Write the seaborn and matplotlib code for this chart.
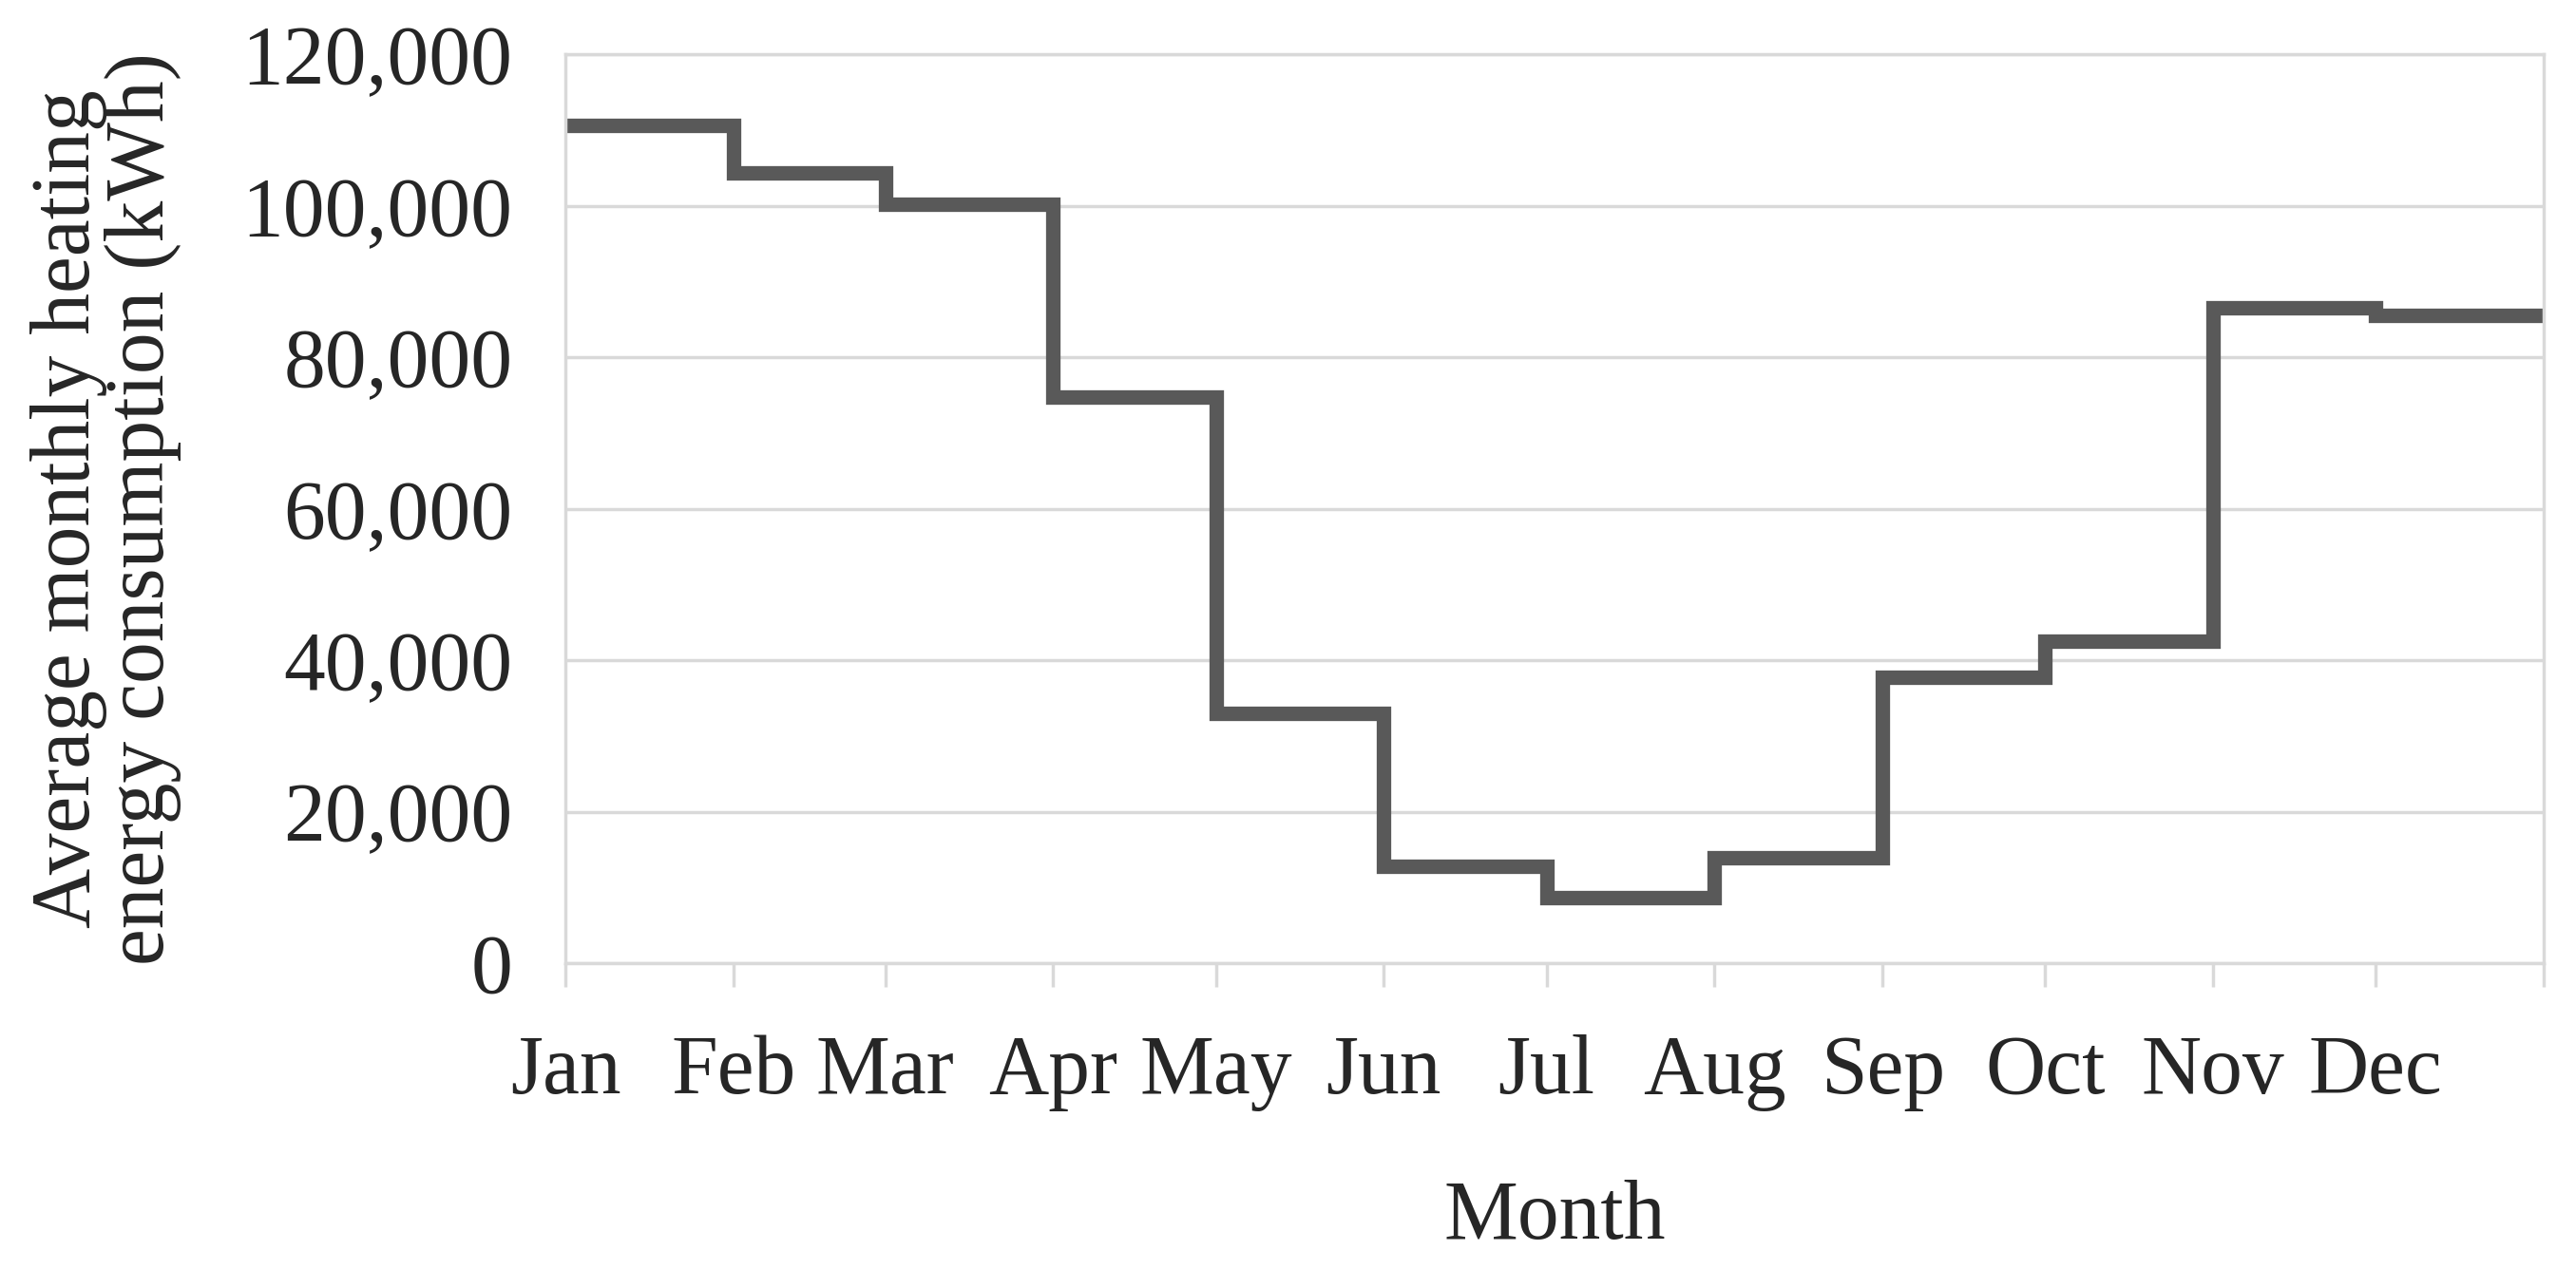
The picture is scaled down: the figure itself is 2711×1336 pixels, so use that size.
import numpy as np
import pandas as pd
import matplotlib
matplotlib.use("Agg")
import matplotlib.pyplot as plt
import seaborn as sns
from matplotlib.ticker import FuncFormatter

# data
months = ['Jan', 'Feb', 'Mar', 'Apr', 'May', 'Jun',
          'Jul', 'Aug', 'Sep', 'Oct', 'Nov', 'Dec']
month_start_day = [0, 31, 59, 90, 120, 151, 181, 212, 243, 273, 304, 334]
year_end_day = 365
heating_kwh = [110600, 104400, 100200, 74800, 33000, 12800,
               8650, 13900, 37700, 42500, 86500, 85600]

# step line needs the last value repeated at the year end
df = pd.DataFrame({
    'day': month_start_day + [year_end_day],
    'kwh': heating_kwh + [heating_kwh[-1]],
})

sns.set_style("white")
plt.rcParams['font.family'] = ['Liberation Serif', 'DejaVu Serif']

grid_col = '#d9d9d9'
line_col = '#595959'

fig = plt.figure(figsize=(27.11, 13.36), dpi=100)
ax = fig.add_axes([0.2195, 0.241, 0.768, 0.716])

sns.lineplot(data=df, x='day', y='kwh', ax=ax, color=line_col,
             linewidth=11, drawstyle='steps-post', solid_joinstyle='miter')

ax.set_xlim(0, year_end_day)
ax.set_ylim(0, 120000)
ax.set_yticks(np.arange(0, 120001, 20000))
ax.yaxis.set_major_formatter(FuncFormatter(lambda v, p: f'{int(v):,}'))
ax.set_xticks(month_start_day + [year_end_day])
ax.set_xticklabels(months + [''])

ax.grid(axis='y', color=grid_col, linewidth=2.5)
ax.set_axisbelow(True)
for s in ax.spines.values():
    s.set_color(grid_col)
    s.set_linewidth(2.5)

ax.tick_params(axis='x', which='major', length=18, width=2.5, color=grid_col,
               labelsize=63, pad=36, direction='out', bottom=True)
ax.tick_params(axis='y', length=0, labelsize=63, pad=40)

ax.set_xlabel('Month', fontsize=63, labelpad=52)
ax.set_ylabel('Average monthly heating\nenergy consumption (kWh)',
              fontsize=63, labelpad=46, linespacing=0.95)

fig.savefig('out.png', dpi=100)
